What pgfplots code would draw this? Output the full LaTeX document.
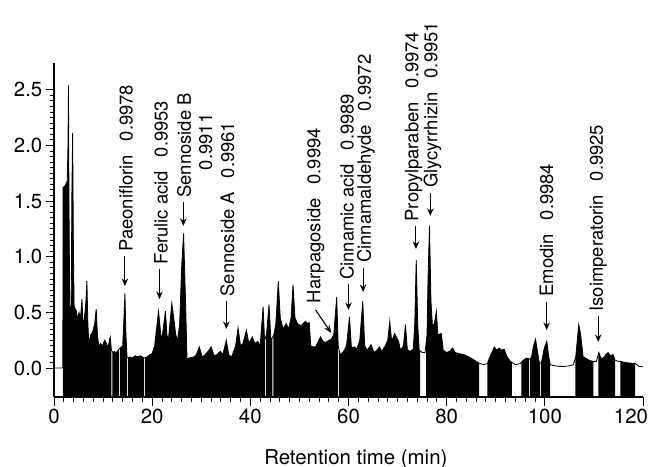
\documentclass[border=0pt]{standalone}
\usepackage{fontspec}
\setmainfont{TeX Gyre Heros}
\usepackage{pgfplots}
\pgfplotsset{compat=1.18}
\usepgfplotslibrary{fillbetween}
\usetikzlibrary{arrows.meta}

% chromatogram trace (t in min, signal)
\pgfplotstableread{
t v
0 0
1.8 0
1.85 1.62
2.3 1.64
2.7 1.68
2.85 2.0
2.95 2.54
3.05 1.5
3.2 0.56
3.5 0.55
3.65 1.6
3.8 2.11
3.95 1.1
4.1 0.55
4.5 0.52
4.8 0.44
5.1 0.5
5.4 0.45
5.7 0.62
5.95 0.36
6.2 0.45
6.5 0.6
6.7 0.78
6.9 0.4
7.1 0.22
7.5 0.3
7.9 0.33
8.3 0.4
8.6 0.53
8.85 0.3
9.1 0.2
9.5 0.22
9.9 0.2
10.3 0.25
10.7 0.22
11.0 0.18
11.3 0.25
11.45 0.28
11.7 0.16
12.0 0.14
12.3 0.15
12.6 0.13
13.0 0.16
13.5 0.18
14.0 0.2
14.25 0.45
14.45 0.67
14.65 0.3
14.9 0.09
15.5 0.1
16.0 0.09
16.5 0.11
17.0 0.1
17.5 0.11
18.0 0.1
18.5 0.09
19.0 0.1
19.5 0.12
20.0 0.13
20.5 0.2
21.3 0.51
21.8 0.28
22.1 0.3
22.7 0.51
23.0 0.3
23.3 0.25
24.0 0.58
24.4 0.45
24.8 0.3
25.2 0.25
25.6 0.4
26.0 0.9
26.4 1.21
26.8 0.6
27.1 0.08
27.5 0.09
28.5 0.1
29.0 0.12
29.6 0.19
30.2 0.1
30.8 0.12
31.4 0.15
32.0 0.19
32.6 0.11
33.2 0.12
33.9 0.15
34.4 0.12
35.1 0.25
35.6 0.12
36.2 0.1
37.0 0.2
37.5 0.36
38.0 0.2
38.5 0.22
39.2 0.34
39.7 0.22
40.4 0.28
40.9 0.22
41.5 0.24
42.0 0.2
42.6 0.55
42.9 0.25
43.3 0.3
43.8 0.57
44.2 0.25
44.8 0.3
45.2 0.4
45.7 0.78
46.1 0.45
46.7 0.35
47.3 0.4
47.8 0.35
48.3 0.45
48.7 0.75
49.1 0.45
49.6 0.4
50.3 0.38
51.2 0.42
51.7 0.4
52.0 0.41
52.3 0.2
52.8 0.19
53.3 0.19
54.3 0.28
54.8 0.24
55.4 0.23
56.0 0.25
56.5 0.26
57.0 0.3
57.6 0.64
57.9 0.2
58.3 0.12
59.0 0.15
59.6 0.2
60.2 0.46
60.6 0.18
61.2 0.19
61.7 0.17
62.3 0.25
62.9 0.6
63.3 0.2
63.8 0.16
64.6 0.21
65.2 0.14
65.8 0.16
66.3 0.19
66.8 0.15
67.5 0.2
68.0 0.25
68.4 0.42
68.8 0.24
69.4 0.31
70.2 0.24
70.6 0.16
71.2 0.2
71.6 0.39
72.0 0.16
72.6 0.15
73.2 0.17
73.5 0.4
73.8 0.97
74.1 0.4
74.4 0.16
75.0 0.14
75.6 0.14
76.0 0.3
76.2 0.8
76.5 1.28
76.8 0.6
77.1 0.38
77.5 0.4
77.9 0.51
78.2 0.3
78.9 0.31
79.3 0.16
80.0 0.14
80.6 0.15
81.2 0.18
81.7 0.14
82.5 0.13
83.5 0.12
84.5 0.1
85.5 0.075
86.5 0.045
87.5 0.03
88.3 0.04
88.7 0.09
89.3 0.15
89.7 0.19
90.2 0.16
90.7 0.18
91.2 0.16
91.7 0.17
92.3 0.1
93.0 0.06
93.3 0.05
94.0 0.03
95.0 0.04
95.6 0.07
96.3 0.09
96.9 0.08
97.3 0.1
97.7 0.2
98.1 0.26
98.5 0.15
98.9 0.04
99.3 0.05
99.9 0.18
100.4 0.24
100.8 0.1
101.1 0.03
102 0.02
103 0.015
104 0.015
105 0.02
105.8 0.03
106.3 0.1
106.9 0.39
107.3 0.3
107.8 0.1
108.3 0.09
109.0 0.07
109.8 0.06
110.5 0.06
111.0 0.14
111.4 0.09
111.9 0.09
112.4 0.12
112.9 0.14
113.3 0.11
113.9 0.12
114.3 0.07
115.0 0.06
115.5 0.06
116.3 0.05
117.3 0.045
118.4 0.04
119.2 0.015
120 0.01
}\chrom

\newcommand{\lab}[3]{\node[rotate=90, anchor=west, inner sep=0pt,
  font=\fontsize{18.5}{22}\selectfont] at (axis cs:#1,#2) {#3};}
\newcommand{\arr}[3]{\draw[-{Stealth[length=7.5bp,width=6.5bp]}, line width=1.1bp]
  (axis cs:#1,#2) -- (axis cs:#1,#3);}
\newcommand{\seg}[2]{\addplot[black, draw=none] fill between[of=sig and base, soft clip={domain=#1:#2}];}

\begin{document}
\begin{tikzpicture}
\begin{axis}[
    name=ax,
    scale only axis,
    width=589bp, height=334bp,
    xmin=0, xmax=120,
    ymin=-0.26, ymax=2.74,
    axis x line=bottom, axis y line=left,
    axis line style={-, line width=1.1bp},
    xtick={0,20,...,100},
    extra x ticks={120},
    extra x tick style={xticklabel style={xshift=-12bp}},
    ytick={0,0.5,...,2.5},
    minor x tick num=9,
    minor y tick num=9,
    tick align=outside,
    major tick length=8.5bp,
    minor tick length=4.5bp,
    every tick/.style={black, line width=0.9bp},
    /pgf/number format/assume math mode=true,
    yticklabel style={/pgf/number format/fixed, /pgf/number format/fixed zerofill,
      /pgf/number format/precision=1, font=\fontsize{20.5}{24}\selectfont, inner sep=3bp},
    xticklabel style={font=\fontsize{20.5}{24}\selectfont, inner sep=3bp},
    xlabel={Retention time (min)},
    x label style={at={(axis description cs:0.5125,0)}, anchor=base, yshift=-67bp,
      font=\fontsize{20.5}{24}\selectfont},
    clip=false,
]
\addplot[draw=none, name path=sig] table[x=t, y=v] {\chrom};
\addplot[draw=none, name path=base] coordinates {(0,-0.26) (120,-0.26)};

\seg{1.8}{11.7}
\seg{11.9}{13.2}
\seg{13.4}{14.9}
\seg{15.1}{18.3}
\seg{18.5}{43.0}
\seg{43.2}{44.5}
\seg{44.7}{57.9}
\seg{58.1}{74.6}
\seg{75.8}{86.6}
\seg{88.3}{93.3}
\seg{95.2}{96.8}
\seg{97.0}{99.0}
\seg{99.2}{101.1}
\seg{106.2}{109.9}
\seg{110.9}{114.3}
\seg{115.4}{118.4}

\addplot[black, line width=0.8bp] table[x=t, y=v] {\chrom};

% peak labels
\lab{14.67}{1.043}{Paeoniflorin\hspace{0.75em}0.9978}
\arr{14.45}{1.007}{0.737}
\lab{21.79}{0.926}{Ferulic acid\hspace{0.75em}0.9953}
\arr{21.5}{0.890}{0.620}
\lab{26.52}{1.529}{Sennoside B}
\node[rotate=90, inner sep=0pt, font=\fontsize{18.5}{22}\selectfont] at (axis cs:30.93,2.032) {0.9911};
\arr{26.35}{1.493}{1.277}
\lab{35.33}{0.641}{Sennoside A\hspace{0.75em}0.9961}
\arr{35.1}{0.603}{0.351}
\lab{53.29}{0.582}{Harpagoside\hspace{0.75em}0.9994}
\draw[-{Stealth[length=7.5bp,width=6.5bp]}, line width=1.1bp]
  (axis cs:53.29,0.522) -- (axis cs:56.46,0.317);
\lab{59.7}{0.791}{Cinnamic acid\hspace{0.75em}0.9989}
\arr{60.0}{0.755}{0.522}
\lab{63.58}{0.944}{Cinnamaldehyde\hspace{0.75em}0.9972}
\arr{62.97}{0.899}{0.683}
\lab{73.27}{1.316}{Propylparaben\hspace{0.75em}0.9974}
\arr{73.74}{1.277}{1.070}
\lab{77.13}{1.616}{Glycyrrhizin\hspace{0.75em}0.9951}
\arr{76.67}{1.574}{1.367}
\lab{100.37}{0.641}{Emodin\hspace{0.75em}0.9984}
\arr{100.37}{0.594}{0.342}
\lab{110.87}{0.506}{Isoimperatorin\hspace{0.75em}0.9925}
\arr{110.87}{0.468}{0.234}
\end{axis}
\pgfresetboundingbox
\path[use as bounding box] ([shift={(-54bp,-70bp)}]ax.south west)
  rectangle ([shift={(597bp,397bp)}]ax.south west);
\end{tikzpicture}
\end{document}
